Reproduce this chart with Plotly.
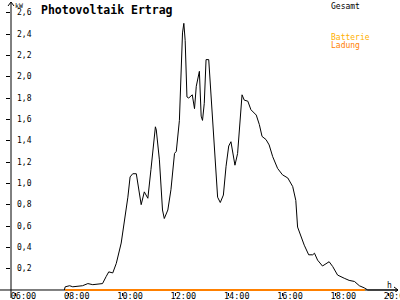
import plotly.graph_objects as go

DAY = "2024-06-01 "

gesamt_times = ["07:50", "07:52", "08:02", "08:09", "08:31", "08:43", "08:54", "09:09", "09:16",
    "09:24", "09:30", "09:39", "09:47", "09:58", "10:05", "10:13", "10:18", "10:24",
    "10:32", "10:37", "10:43", "10:50", "10:58", "11:05", "11:09", "11:15", "11:17",
    "11:24", "11:31", "11:35", "11:43", "11:50", "11:58", "12:02", "12:09", "12:16",
    "12:19", "12:22", "12:26", "12:30", "12:38", "12:43", "12:47", "12:54", "12:58",
    "13:01", "13:05", "13:09", "13:15", "13:20", "13:28", "13:35", "13:41", "13:48",
    "13:54", "14:00", "14:05", "14:09", "14:14", "14:20", "14:24", "14:30", "14:35",
    "14:43", "14:50", "15:02", "15:09", "15:15", "15:24", "15:31", "15:39", "15:50",
    "16:01", "16:13", "16:24", "16:31", "16:35", "16:43", "16:50", "17:00", "17:09",
    "17:13", "17:20", "17:31", "17:39", "17:46", "17:54", "18:05", "18:20", "18:31",
    "18:43", "18:54", "19:05", "19:13", "20:20"]
gesamt_kw = [0.0, 0.03, 0.04, 0.03, 0.04, 0.06, 0.05, 0.06, 0.06,
    0.125, 0.17, 0.16, 0.25, 0.44, 0.63, 0.87, 1.06, 1.09,
    1.09, 0.97, 0.80, 0.92, 0.86, 1.13, 1.31, 1.53, 1.50,
    1.22, 0.75, 0.67, 0.75, 0.94, 1.28, 1.30, 1.59, 2.41,
    2.50, 2.34, 1.81, 1.80, 1.83, 1.70, 1.91, 2.05, 1.63,
    1.59, 1.75, 2.16, 2.16, 1.84, 1.22, 0.87, 0.82, 0.89,
    1.16, 1.35, 1.39, 1.30, 1.17, 1.28, 1.53, 1.83, 1.78,
    1.77, 1.69, 1.64, 1.55, 1.44, 1.41, 1.36, 1.25, 1.14,
    1.08, 1.05, 0.97, 0.84, 0.59, 0.50, 0.42, 0.33, 0.33,
    0.345, 0.28, 0.225, 0.25, 0.265, 0.22, 0.14, 0.11, 0.09,
    0.08, 0.04, 0.02, 0.0, 0.0]

batterie_times = ["07:52", "19:06"]
batterie_kw = [0.0, 0.0]
ladung_times = ["07:52", "19:06"]
ladung_kw = [0.0, 0.0]

x_tick_vals = ["06:00", "08:00", "10:00", "12:00", "14:00", "16:00", "18:00", "20:00"]
y_tick_vals = [0.2, 0.4, 0.6, 0.8, 1.0, 1.2, 1.4, 1.6, 1.8, 2.0, 2.2, 2.4, 2.6]
y_tick_text = ["0,2", "0,4", "0,6", "0,8", "1,0", "1,2", "1,4", "1,6", "1,8",
               "2,0", "2,2", "2,4", "2,6"]

def ts(lst):
    return [DAY + t for t in lst]

MONO = "DejaVu Sans Mono"
Y_MIN, Y_MAX = -0.0188, 2.70

fig = go.Figure()
fig.add_trace(go.Scatter(x=ts(batterie_times), y=batterie_kw, mode="lines",
                         line=dict(color="#ffb000", width=2), name="Batterie"))
fig.add_trace(go.Scatter(x=ts(ladung_times), y=ladung_kw, mode="lines",
                         line=dict(color="#ff8000", width=2), name="Ladung"))
fig.add_trace(go.Scatter(x=ts(gesamt_times), y=gesamt_kw, mode="lines",
                         line=dict(color="black", width=1), name="Gesamt"))

fig.update_layout(
    width=400, height=300,
    margin=dict(l=11, r=2, t=2, b=8),
    paper_bgcolor="white", plot_bgcolor="white",
    showlegend=False,
    separators=",.",
    font=dict(family=MONO, size=8, color="black"),
)
fig.update_xaxes(
    range=[DAY + "05:50", DAY + "20:21"],
    tickvals=ts(x_tick_vals), tickformat="%H:%M",
    ticks="outside", ticklen=3, tickcolor="black",
    ticklabelshift=8, ticklabelstandoff=-7, ticklabeloverflow="allow",
    automargin=False,
    showgrid=False, zeroline=False, showline=False,
    tickfont=dict(family=MONO, size=8.5, color="black"),
)
fig.update_yaxes(
    range=[Y_MIN, Y_MAX],
    tickvals=y_tick_vals, showticklabels=False,
    ticks="outside", ticklen=4, tickcolor="black",
    automargin=False,
    showgrid=False, zeroline=False, showline=False,
)

# y tick labels placed inside, right of the axis
for v, t in zip(y_tick_vals, y_tick_text):
    fig.add_annotation(text=t, xref="paper", yref="y", x=3.5 / 387, y=v,
                       xanchor="left", yanchor="middle", showarrow=False,
                       font=dict(family=MONO, size=8, color="black"))

# axis lines with arrows
W = 387.0
fig.add_shape(type="line", xref="paper", yref="y", x0=-11 / W, x1=1, y0=0, y1=0,
              line=dict(color="black", width=1), layer="below")
fig.add_shape(type="line", xref="paper", yref="paper", x0=0, x1=0, y0=-6 / 290, y1=1,
              line=dict(color="black", width=1), layer="below")
fig.add_shape(type="path", xref="paper", yref="y",
              path=f"M {1-4/W} 0.028 L 1 0 L {1-4/W} -0.028",
              line=dict(color="black", width=1))
fig.add_shape(type="path", xref="paper", yref="paper",
              path=f"M {-3/W} {1-4/290} L 0 1 L {3/W} {1-4/290}",
              line=dict(color="black", width=1))

fig.add_annotation(text="<b>Photovoltaik Ertrag</b>", xref="paper", yref="paper",
                   x=(39 - 11) / W, y=1 + 1 / 290, xanchor="left", yanchor="top",
                   showarrow=False, font=dict(family=MONO, size=11.5, color="black"))
fig.add_annotation(text="kW", xref="paper", yref="paper", x=(13 - 11) / W, y=1 + 2.5 / 290,
                   xanchor="left", yanchor="top", showarrow=False,
                   font=dict(family=MONO, size=6.5, color="black"))
fig.add_annotation(text="h", xref="paper", yref="y", x=(385 - 11) / W, y=0.1,
                   xanchor="left", yanchor="top", showarrow=False,
                   font=dict(family=MONO, size=8, color="black"))
fig.add_annotation(text="Gesamt", xref="paper", yref="paper", x=(329 - 11) / W, y=1 + 2 / 290,
                   xanchor="left", yanchor="top", showarrow=False,
                   font=dict(family=MONO, size=8, color="black"))
fig.add_annotation(text="Batterie", xref="paper", yref="paper", x=(329 - 11) / W, y=1 - 29 / 290,
                   xanchor="left", yanchor="top", showarrow=False,
                   font=dict(family=MONO, size=8, color="#ffb000"))
fig.add_annotation(text="Ladung", xref="paper", yref="paper", x=(329 - 11) / W, y=1 - 37 / 290,
                   xanchor="left", yanchor="top", showarrow=False,
                   font=dict(family=MONO, size=8, color="#ff8000"))

fig.write_html("out.html")
